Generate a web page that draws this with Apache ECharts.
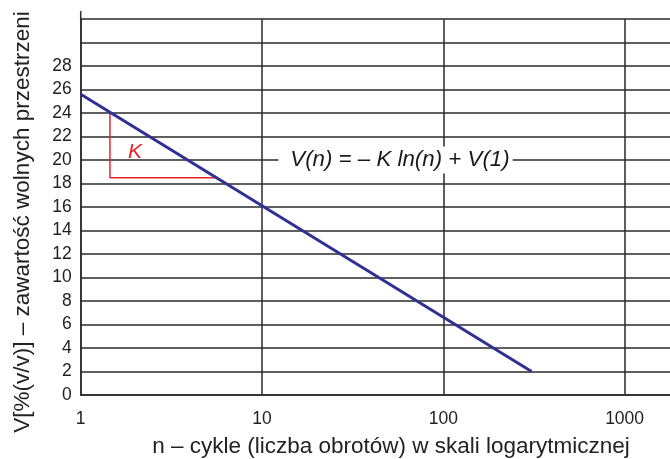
<!DOCTYPE html>
<html>
<head>
<meta charset="utf-8">
<script src="https://cdn.jsdelivr.net/npm/echarts@6/dist/echarts.min.js"></script>
<style>
html,body{margin:0;padding:0;background:#fff;}
#main{width:670px;height:459px;}
</style>
</head>
<body>
<div id="main"></div>
<script>
// ---- data ----
var lineData = [[1, 25.6], [307, 2]];            // V(n) line endpoints (n, V)
var triangleData = [[1.45, 24.0], [1.45, 18.5], [5.63, 18.5]]; // slope triangle K
var kLabelPos = [1.99, 20.7];
var eqLabelPos = [12.3, 20];
var eqText = 'V(n) = – K ln(n) + V(1)';
var kText = 'K';
var yTickMaxLabel = 28;
var xTitle = 'n – cykle (liczba obrotów) w skali logarytmicznej';
var yTitle = 'V[%(v/v)] – zawartość wolnych przestrzeni';

var FONT = 'Liberation Sans, Arial, sans-serif';
var GRID = '#2a2a2a';

var chart = echarts.init(document.getElementById('main'), null, {renderer: 'canvas'});
var option = {
  animation: false,
  backgroundColor: '#fff',
  grid: {left: 80.7, top: 19, width: 595.3, height: 376, containLabel: false, outerBoundsMode: 'none'},
  xAxis: {
    type: 'log', logBase: 10, min: 1, max: 1921,
    axisLine: {show: true, lineStyle: {color: GRID, width: 1.5}},
    axisTick: {show: false},
    splitLine: {show: true, lineStyle: {color: GRID, width: 1.5}},
    axisLabel: {
      color: '#222', fontSize: 17.5, fontFamily: FONT, margin: 15,
      formatter: function (v) {
        var l = Math.log10(v);
        return Math.abs(l - Math.round(l)) < 1e-6 ? String(Math.round(v)) : '';
      }
    }
  },
  yAxis: {
    type: 'value', min: 0, max: 32, interval: 2,
    axisLine: {show: true, lineStyle: {color: GRID, width: 1.5}},
    axisTick: {show: false},
    splitLine: {show: true, lineStyle: {color: GRID, width: 1.5}},
    axisLabel: {
      color: '#222', fontSize: 17.5, fontFamily: FONT, margin: 9,
      formatter: function (v) { return v <= yTickMaxLabel ? String(v) : ''; }
    }
  },
  series: [
    {
      type: 'line', data: triangleData, symbol: 'none', z: 3,
      lineStyle: {color: '#e8232b', width: 1.5}
    },
    {
      type: 'line', data: lineData, symbol: 'none', z: 4,
      lineStyle: {color: '#2e3192', width: 3}
    },
    {
      type: 'scatter', data: [eqLabelPos], symbolSize: 0, z: 5,
      itemStyle: {opacity: 1},
      label: {
        show: true, position: 'right', distance: 0, formatter: eqText,
        color: '#1a1a1a', fontSize: 22.3, fontStyle: 'italic', fontFamily: FONT,
        backgroundColor: '#fff', padding: [3, 3, 2, 12]
      }
    },
    {
      type: 'scatter', data: [kLabelPos], symbolSize: 0, z: 5,
      itemStyle: {opacity: 1},
      label: {
        show: true, position: 'inside', formatter: kText,
        color: '#e8232b', fontSize: 21, fontStyle: 'italic', fontFamily: FONT
      }
    }
  ]
};
chart.setOption(option);

// axis line extends a little above the top grid line
var topLeft = chart.convertToPixel({gridIndex: 0}, [1, 32]);
chart.setOption({
  graphic: [
    {type: 'line', shape: {x1: topLeft[0], y1: topLeft[1] - 8, x2: topLeft[0], y2: topLeft[1]},
     style: {stroke: GRID, lineWidth: 1.5}},
    {type: 'text', x: 23, y: 222, rotation: Math.PI / 2,
     style: {text: yTitle, fill: '#222', font: '22.5px ' + FONT, align: 'center', verticalAlign: 'middle'}},
    {type: 'text', x: 391, y: 447,
     style: {text: xTitle, fill: '#222', font: '22.5px ' + FONT, align: 'center', verticalAlign: 'middle'}}
  ]
});
</script>
</body>
</html>
